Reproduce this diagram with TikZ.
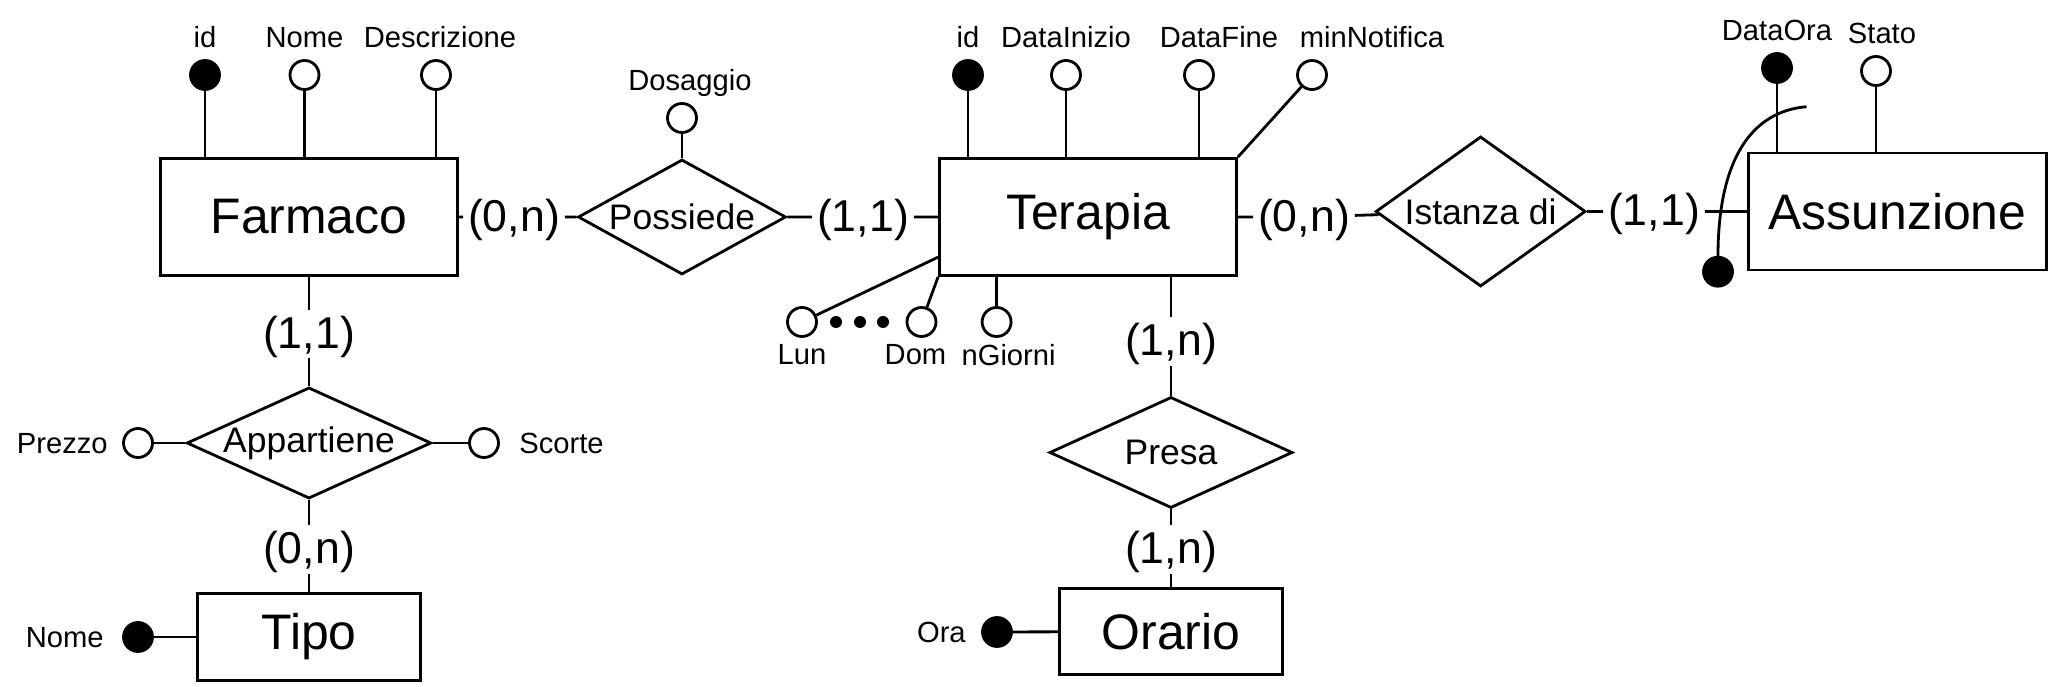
\documentclass[tikz,border=0pt]{standalone}
\usepackage{fontspec}
\setmainfont{Liberation Sans}
\usepackage{tikz}
\usetikzlibrary{positioning, shapes}

\begin{document}
\begin{tikzpicture}[line width=0.8pt,
          entity/.style={draw,rectangle,inner sep=2pt,
                      font=\fontsize{14.2}{17}\selectfont},
          relation/.style={draw,diamond,aspect=2,inner sep=0pt,
                      font=\fontsize{10.1}{12}\selectfont},
          card/.style={inner xsep=1pt,inner ysep=1pt,
                      text height=0.95em,text depth=0.14em,
                      font=\fontsize{12.7}{15}\selectfont},
          attr/.style={draw,circle,fill=white,minimum size=0.29cm,inner sep=0pt},
          key/.style={attr,fill=black},
          lbl/.style={inner sep=0pt,text depth=0pt,
                      font=\fontsize{8.3}{10}\selectfont}]
        \useasboundingbox (0,0) rectangle (20.49,6.87);
        \node[entity,minimum width=2.97cm,minimum height=1.17cm](far) at (3.09,4.70){Farmaco};
        \node[entity,minimum width=2.23cm,minimum height=0.87cm](tipo) at (3.09,0.50){Tipo};
        \node[entity,minimum width=2.97cm,minimum height=1.17cm](ter) at (10.88,4.70){Terapia};
        \node[entity,minimum width=2.23cm,minimum height=0.86cm](ora) at (11.71,0.555){Orario};
        \node[entity,minimum width=2.98cm,minimum height=1.17cm](ass) at (18.975,4.755){Assunzione};
        \node[relation,minimum width=2.08cm,minimum height=1.15cm](poss) at (6.82,4.70){Possiede};
        \node[relation,aspect=2.2,minimum width=2.38cm,minimum height=1.10cm](app) at (3.09,2.44){Appartiene};
        \node[relation,minimum width=2.10cm,minimum height=1.50cm](ist) at (14.806,4.755){Istanza di};
        \node[relation,minimum width=2.43cm,minimum height=1.11cm](presa) at (11.71,2.345){Presa};

        \node[card](cfp) at (5.14,4.70){(0,n)};
        \node[card](cpt) at (8.63,4.70){(1,1)};
        \node[card](cti) at (13.04,4.70){(0,n)};
        \node[card](cia) at (16.54,4.755){(1,1)};
        \node[card](cfa) at (3.09,3.53){(1,1)};
        \node[card](cat) at (3.09,1.375){(0,n)};
        \node[card](ctp) at (11.71,3.455){(1,n)};
        \node[card](cpo) at (11.71,1.375){(1,n)};

        \node[key](fid) at (2.05,6.12){};
        \node[attr](fnome) at (3.045,6.12){};
        \node[attr](fdesc) at (4.36,6.12){};
        \node[attr](dos) at (6.82,5.69){};
        \node[attr](prez) at (1.38,2.44){};
        \node[attr](scor) at (4.84,2.44){};
        \node[key](tnome) at (1.38,0.50){};
        \node[key](tid) at (9.68,6.12){};
        \node[attr](tini) at (10.66,6.12){};
        \node[attr](tfine) at (11.99,6.12){};
        \node[attr](tmin) at (13.12,6.12){};
        \node[attr](lun) at (8.02,3.65){};
        \node[attr](dom) at (9.215,3.65){};
        \node[attr](ngio) at (9.966,3.65){};
        \node[key](oora) at (9.97,0.55){};
        \node[key](adata) at (17.77,6.19){};
        \node[attr](astato) at (18.76,6.16){};
        \node[key](kass) at (17.18,4.153){};
        \coordinate(kstart) at (18.065,5.803);

        \node[lbl,above=0.1cm of fid]{id};
        \node[lbl,above=0.1cm of fnome]{Nome};
        \node[lbl,above=0.1cm of fdesc,xshift=0.04cm]{Descrizione};
        \node[lbl,above=0.1cm of dos,xshift=0.08cm]{Dosaggio};
        \node[lbl,left=0.13cm of prez]{Prezzo};
        \node[lbl,right=0.18cm of scor]{Scorte};
        \node[lbl,left=0.17cm of tnome]{Nome};
        \node[lbl,above=0.1cm of tid]{id};
        \node[lbl,above=0.1cm of tini]{DataInizio};
        \node[lbl,above=0.1cm of tfine,xshift=0.2cm]{DataFine};
        \node[lbl,above=0.1cm of tmin,xshift=0.6cm]{minNotifica};
        \node[lbl,below=0.05cm of lun]{Lun};
        \node[lbl,below=0.05cm of dom,xshift=-0.06cm]{Dom};
        \node[lbl,below=0.05cm of ngio,xshift=0.12cm]{nGiorni};
        \node[lbl,left=0.14cm of oora]{Ora};
        \node[lbl,above=0.1cm of adata]{DataOra};
        \node[lbl,above=0.1cm of astato,xshift=0.06cm]{Stato};

        \draw(far)--(cfp)--(poss)--(cpt)--(ter)--(cti)--(ist)--(cia)--(ass);
        \draw(far)--(cfa)--(app)--(cat)--(tipo);
        \draw(ctp)--(ctp|-ter.south);
        \draw(ctp)--(presa)--(cpo)--(ora);
        \draw(fid)--(fid|-far.north);
        \draw(fnome)--(fnome|-far.north);
        \draw(fdesc)--(fdesc|-far.north);
        \draw(dos)--(poss.north);
        \draw(prez)--(app.west);
        \draw(scor)--(app.east);
        \draw(tnome)--(tipo);
        \draw(tid)--(tid|-ter.north);
        \draw(tini)--(tini|-ter.north);
        \draw(tfine)--(tfine|-ter.north);
        \draw(tmin)--(ter.north east);
        \draw(lun)--(ter.195);
        \draw(dom)--(ter.south west);
        \draw(ngio)--(ngio|-ter.south);
        \foreach \x in {8.36,8.60,8.83}
          \fill (\x,3.65) circle (0.06);
        \draw(oora)--(ora);
        \draw(adata)--(adata|-ass.north);
        \draw(astato)--(astato|-ass.north);
        \draw(kstart) .. controls (17.45,5.75) and (17.18,5.17) .. (kass);
      \end{tikzpicture}
\end{document}
